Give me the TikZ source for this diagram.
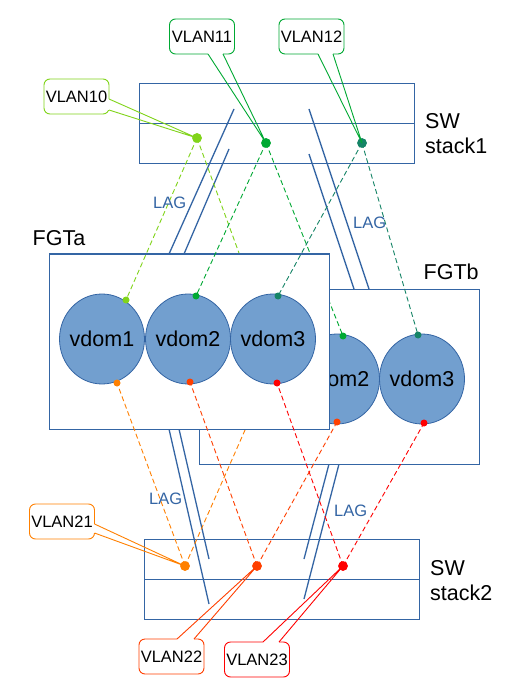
\documentclass[tikz,border=0pt]{standalone}
\usepackage{fontspec}
\setmainfont{Liberation Sans}
\usetikzlibrary{shapes.geometric}
\definecolor{lime}{HTML}{81D41A}
\definecolor{grn}{HTML}{00A933}
\definecolor{teal}{HTML}{158466}
\definecolor{orng}{HTML}{FF8000}
\definecolor{ored}{HTML}{FF4000}
\definecolor{rd}{HTML}{FF0000}
\definecolor{blu}{HTML}{3465A4}
\definecolor{vfill}{HTML}{729FCF}
\newcommand\BigLbl{\fontsize{21.5}{25}\selectfont}
\newcommand\SmLbl{\fontsize{16.5}{19}\selectfont}
\tikzset{
  swbox/.style={draw=blu, line width=1pt},
  fgtbox/.style={draw=blu, line width=1pt, fill=white},
  lag/.style={draw=blu, line width=1.3pt},
  vdom/.style={ellipse, draw=blu, line width=0.8pt, fill=vfill, minimum width=85pt, minimum height=90pt, inner sep=0pt, label={[font=\BigLbl, inner sep=0pt]center:#1}},
  bigdot/.style={circle, inner sep=0pt, minimum size=9.5pt},
  smdot/.style={circle, inner sep=0pt, minimum size=7pt},
  dsh/.style={line width=0.9pt, dash pattern=on 5pt off 3pt},
  callout/.style={rounded corners=6pt, line width=0.9pt, fill=white, minimum width=65pt, minimum height=35pt, inner sep=0pt, font=\SmLbl},
  spike/.style={line width=0.9pt},
  laglbl/.style={text=blu, font=\SmLbl, anchor=base west, inner sep=0pt},
  biglbl/.style={font=\BigLbl, anchor=base west, inner sep=0pt}
}
\begin{document}
\begin{tikzpicture}[x=1pt,y=-1pt]
\useasboundingbox (0,0) rectangle (520,700);
\fill[white] (0,0) rectangle (520,700);

% switch stacks
\draw[swbox] (139,84) rectangle (414,164);
\draw[swbox] (139,124) -- (414,124);
\draw[swbox] (144,539) rectangle (419,619);
\draw[swbox] (144,579) -- (419,579);

% LAG lines
\coordinate (l1a) at (234,109); \coordinate (l1b) at (169,254);
\coordinate (l2a) at (229,149); \coordinate (l2b) at (184,254);
\coordinate (r1a) at (309,109); \coordinate (r1b) at (369,289);
\coordinate (r2a) at (309,154); \coordinate (r2b) at (354,289);
\coordinate (bl1a) at (169,429); \coordinate (bl1b) at (209,604);
\coordinate (bl2a) at (179,429); \coordinate (bl2b) at (209,559);
\coordinate (br1a) at (329,464); \coordinate (br1b) at (304,559);
\coordinate (br2a) at (339,464); \coordinate (br2b) at (304,599);
\draw[lag] (l1a) -- (l1b);
\draw[lag] (l2a) -- (l2b);
\draw[lag] (r1a) -- (r1b);
\draw[lag] (r2a) -- (r2b);
\draw[lag] (bl1a) -- (bl1b);
\draw[lag] (bl2a) -- (bl2b);
\draw[lag] (br1a) -- (br1b);
\draw[lag] (br2a) -- (br2b);

% switch dots (positions)
\node[bigdot, fill=lime] (t10) at (197,138) {};
\node[bigdot, fill=grn] (t11) at (266,143) {};
\node[bigdot, fill=teal] (t12) at (362,143) {};
\node[bigdot, fill=orng] (s21) at (185,566) {};
\node[bigdot, fill=ored] (s22) at (257,566) {};
\node[bigdot, fill=rd] (s23) at (343,566) {};

% FGTb
\draw[fgtbox] (199,289) rectangle (479,464);
\node[vdom=vdom1] (b1) at (252,379) {};
\node[vdom=vdom2] (b2) at (337,379) {};
\node[vdom=vdom3] (b3) at (422,379) {};
\coordinate (b1t) at (270,338);
\coordinate (b1b) at (249,421);
\coordinate (b2tc) at (343,336);
\coordinate (b3tc) at (418,335);
\coordinate (b2bc) at (337,422);
\coordinate (b3bc) at (424,423);
\draw[dsh, lime] (t10.center) -- (b1t);
\draw[dsh, grn] (t11.center) -- (b2tc);
\draw[dsh, teal] (t12.center) -- (b3tc);
\draw[dsh, orng] (s21.center) -- (b1b);
\draw[dsh, ored] (s22.center) -- (b2bc);
\draw[dsh, rd] (s23.center) -- (b3bc);
\node[smdot, fill=grn] (b2t) at (b2tc) {};
\node[smdot, fill=teal] (b3t) at (b3tc) {};
\node[smdot, fill=ored] (b2b) at (b2bc) {};
\node[smdot, fill=rd] (b3b) at (b3bc) {};

% FGTa
\draw[fgtbox] (49,254) rectangle (329,429);
\node[vdom=vdom1] (a1) at (102,339) {};
\node[vdom=vdom2] (a2) at (188,339) {};
\node[vdom=vdom3] (a3) at (273,339) {};
\coordinate (a1tc) at (126,300);
\coordinate (a2tc) at (196,296);
\coordinate (a3tc) at (278,296);
\coordinate (a1bc) at (117,383);
\coordinate (a2bc) at (190,382);
\coordinate (a3bc) at (277,383);
\draw[dsh, lime] (t10.center) -- (a1tc);
\draw[dsh, grn] (t11.center) -- (a2tc);
\draw[dsh, teal] (t12.center) -- (a3tc);
\draw[dsh, orng] (s21.center) -- (a1bc);
\draw[dsh, ored] (s22.center) -- (a2bc);
\draw[dsh, rd] (s23.center) -- (a3bc);
\node[smdot, fill=lime] (a1t) at (a1tc) {};
\node[smdot, fill=grn] (a2t) at (a2tc) {};
\node[smdot, fill=teal] (a3t) at (a3tc) {};
\node[smdot, fill=orng] (a1b) at (a1bc) {};
\node[smdot, fill=ored] (a2b) at (a2bc) {};
\node[smdot, fill=rd] (a3b) at (a3bc) {};

% redraw switch dots on top
\node[bigdot, fill=lime] at (t10) {};
\node[bigdot, fill=grn] at (t11) {};
\node[bigdot, fill=teal] at (t12) {};
\node[bigdot, fill=orng] at (s21) {};
\node[bigdot, fill=ored] at (s22) {};
\node[bigdot, fill=rd] at (s23) {};

% labels
\node[biglbl] (sw1a) at (425,129) {SW};
\node[biglbl] (sw1b) at (425,154) {stack1};
\node[biglbl] (sw2a) at (430,575) {SW};
\node[biglbl] (sw2b) at (430,600) {stack2};
\node[biglbl] (fgta) at (32.5,246) {FGTa};
\node[biglbl] (fgtb) at (423.5,279) {FGTb};
\node[laglbl] (lagA) at (153,209) {LAG};
\node[laglbl] (lagB) at (353,229) {LAG};
\node[laglbl] (lagC) at (149,504) {LAG};
\node[laglbl] (lagD) at (334,516) {LAG};

% callouts
\node[callout, draw=lime] (c10) at (76.5,96.5) {VLAN10};
\coordinate (c10a) at (109,99); \coordinate (c10b) at (109,110);
\draw[white, line width=1.8pt] (c10a) -- (c10b);
\draw[spike, lime] (c10a) -- (t10.center) -- (c10b);

\node[callout, draw=grn] (c11) at (202,36.5) {VLAN11};
\coordinate (c11a) at (208,54); \coordinate (c11b) at (223,54);
\draw[white, line width=1.8pt] (c11a) -- (c11b);
\draw[spike, grn] (c11a) -- (t11.center) -- (c11b);

\node[callout, draw=grn] (c12) at (311.5,36.5) {VLAN12};
\coordinate (c12a) at (318,54); \coordinate (c12b) at (333,54);
\draw[white, line width=1.8pt] (c12a) -- (c12b);
\draw[spike, grn] (c12a) -- (t12.center) -- (c12b);

\node[callout, draw=orng] (c21) at (62,521.5) {VLAN21};
\coordinate (c21a) at (94.5,524); \coordinate (c21b) at (94.5,533);
\draw[white, line width=1.8pt] (c21a) -- (c21b);
\draw[spike, orng] (c21a) -- (s21.center) -- (c21b);

\node[callout, draw=ored] (c22) at (171.5,656.5) {VLAN22};
\coordinate (c22a) at (177,639); \coordinate (c22b) at (194,639);
\draw[white, line width=1.8pt] (c22a) -- (c22b);
\draw[spike, ored] (c22a) -- (s22.center) -- (c22b);

\node[callout, draw=rd] (c23) at (257,659.5) {VLAN23};
\coordinate (c23a) at (263,642); \coordinate (c23b) at (279,642);
\draw[white, line width=1.8pt] (c23a) -- (c23b);
\draw[spike, rd] (c23a) -- (s23.center) -- (c23b);
\end{tikzpicture}
\end{document}
